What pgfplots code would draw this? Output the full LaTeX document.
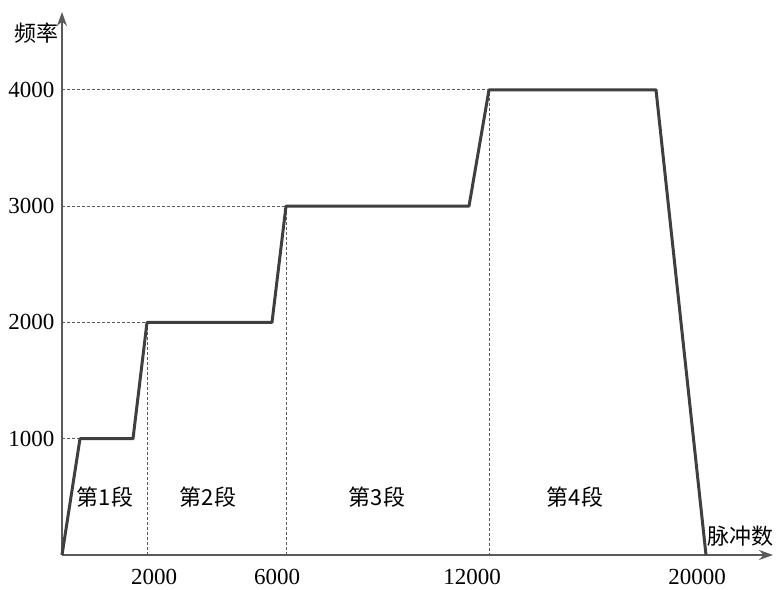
\documentclass[border=0pt]{standalone}
\usepackage{fontspec}
\setmainfont{Liberation Serif}
\newfontfamily\cjk{Noto Sans CJK SC}
\usepackage{pgfplots}
\pgfplotsset{compat=1.18}
\usetikzlibrary{arrows.meta}
\definecolor{lc}{HTML}{3F3F3F}
\definecolor{ac}{HTML}{5A5A5A}
\begin{document}
\fontsize{11pt}{13pt}\selectfont
\begin{tikzpicture}
\begin{axis}[
  x=0.5pt, y=0.05815pt,
  xmin=0, xmax=711, ymin=0, ymax=4669,
  axis lines=left,
  axis line style={ac, line width=0.75pt, -{Stealth[length=7pt,width=5pt]}},
  clip=false,
  major tick length=0pt,
  xtick={92,215,410,635},
  xticklabels={2000,6000,12000,20000},
  ytick={1000,2000,3000,4000},
  /pgf/number format/assume math mode=true,
  /pgf/number format/set thousands separator={},
  yticklabel style={font=\fontsize{11.5pt}{13pt}\selectfont},
  xticklabel style={font=\fontsize{11.5pt}{13pt}\selectfont, yshift=-3pt},
  scaled ticks=false,
]
% dashed guide lines
\addplot[ac, line width=0.45pt, dash pattern=on 1.5pt off 1pt] coordinates {(0,1000) (18,1000)};
\addplot[ac, line width=0.45pt, dash pattern=on 1.5pt off 1pt] coordinates {(0,2000) (85,2000) (85,0)};
\addplot[ac, line width=0.45pt, dash pattern=on 1.5pt off 1pt] coordinates {(0,3000) (224,3000) (224,0)};
\addplot[ac, line width=0.45pt, dash pattern=on 1.5pt off 1pt] coordinates {(0,4000) (427,4000) (427,0)};
% profile
\addplot[lc, line width=1.5pt, line join=round] coordinates {
  (0,0) (18,1000) (71,1000) (85,2000) (210,2000) (224,3000)
  (407,3000) (427,4000) (594,4000) (644,0)};
\node[font=\cjk\fontsize{11pt}{13pt}\selectfont] at (axis cs:43,500) {第1段};
\node[font=\cjk\fontsize{11pt}{13pt}\selectfont] at (axis cs:146,500) {第2段};
\node[font=\cjk\fontsize{11pt}{13pt}\selectfont] at (axis cs:315,500) {第3段};
\node[font=\cjk\fontsize{11pt}{13pt}\selectfont] at (axis cs:513,500) {第4段};
\node[font=\cjk\fontsize{11pt}{13pt}\selectfont] at (axis cs:678,163) {脉冲数};
\node[font=\cjk\fontsize{11pt}{13pt}\selectfont] at (axis cs:-25,4488) {频率};
\coordinate (O) at (axis cs:0,0);
\end{axis}
\pgfresetboundingbox
\path[use as bounding box] ([shift={(-31pt,-17pt)}]O) rectangle ([shift={(357pt,277.5pt)}]O);
\end{tikzpicture}
\end{document}
